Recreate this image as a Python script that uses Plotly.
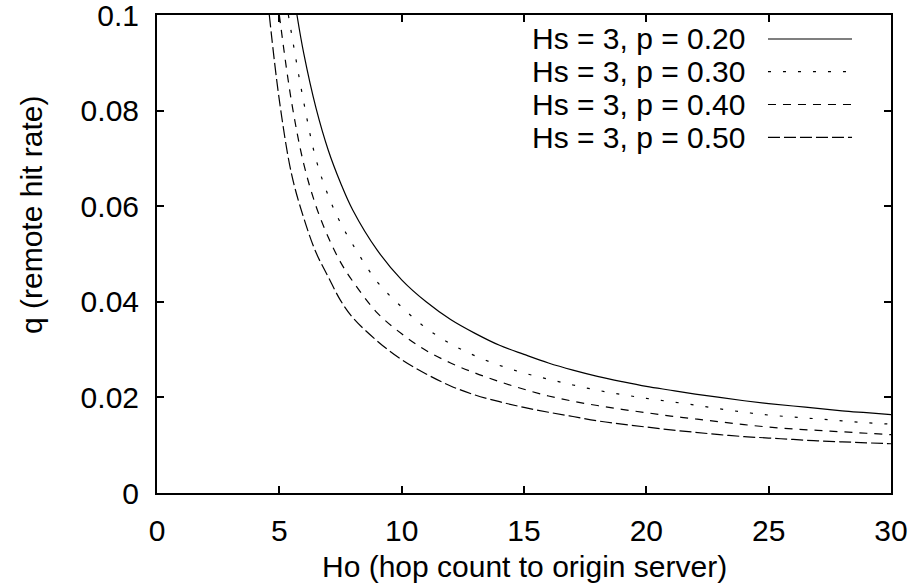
import plotly.graph_objects as go

# Remote hit rate q versus hop count to origin server Ho, for Hs = 3
series_names = ["Hs = 3, p = 0.20", "Hs = 3, p = 0.30", "Hs = 3, p = 0.40", "Hs = 3, p = 0.50"]

ho_p20 = [5.72, 6, 6.5, 7, 7.5, 8, 9, 10, 11, 12, 13, 14, 15, 16, 17, 18, 19, 20,
          21, 22, 23, 24, 25, 26, 27, 28, 29, 30]
q_p20 = [0.100, 0.0919, 0.0805, 0.0717, 0.0649, 0.0592, 0.0508, 0.0446, 0.0400, 0.0363,
         0.0334, 0.0309, 0.0290, 0.0272, 0.0257, 0.0244, 0.0233, 0.0223,
         0.0215, 0.0207, 0.0200, 0.0193, 0.0187, 0.0182, 0.0177, 0.0172, 0.0168, 0.0164]

ho_p30 = [5.37, 6, 6.5, 7, 7.5, 8, 9, 10, 11, 12, 13, 14, 15, 16, 17, 18, 19, 20,
          21, 22, 23, 24, 25, 26, 27, 28, 29, 30]
q_p30 = [0.100, 0.0817, 0.0698, 0.0622, 0.0565, 0.0520, 0.0442, 0.0389, 0.0345, 0.0312,
         0.0287, 0.0267, 0.0251, 0.0238, 0.0226, 0.0215, 0.0206, 0.0198,
         0.0191, 0.0184, 0.0176, 0.0169, 0.0163, 0.0159, 0.0155, 0.0151, 0.0147, 0.0144]

ho_p40 = [5.0, 5.5, 6, 6.5, 7, 7.5, 8, 9, 10, 11, 12, 13, 14, 15, 16, 17, 18, 19, 20,
          21, 22, 23, 24, 25, 26, 27, 28, 29, 30]
q_p40 = [0.100, 0.0818, 0.0688, 0.0600, 0.0535, 0.0483, 0.0443, 0.0377, 0.0333, 0.0298,
         0.0272, 0.0251, 0.0233, 0.0217, 0.0203, 0.0192, 0.0183, 0.0175, 0.0168,
         0.0161, 0.0155, 0.0149, 0.0143, 0.0138, 0.0134, 0.0131, 0.0128, 0.0125, 0.0122]

ho_p50 = [4.59, 5, 5.5, 6, 6.5, 7, 7.5, 8, 9, 10, 11, 12, 13, 14, 15, 16, 17, 18, 19, 20,
          21, 22, 23, 24, 25, 26, 27, 28, 29, 30]
q_p50 = [0.100, 0.0822, 0.0667, 0.0575, 0.0503, 0.0452, 0.0403, 0.0367, 0.0318, 0.0279,
         0.0249, 0.0224, 0.0205, 0.0191, 0.0179, 0.0169, 0.0160, 0.0151, 0.0144, 0.0138,
         0.0132, 0.0127, 0.0122, 0.0118, 0.0115, 0.0112, 0.0109, 0.0107, 0.0105, 0.0103]

x_ticks = [0, 5, 10, 15, 20, 25, 30]
y_ticks = [0, 0.02, 0.04, 0.06, 0.08, 0.1]
y_tick_text = ["0", "0.02", "0.04", "0.06", "0.08", "0.1"]

dash_styles = ["solid", "3px,12px", "8px,7px", "12px,4px"]
xs = [ho_p20, ho_p30, ho_p40, ho_p50]
ys = [q_p20, q_p30, q_p40, q_p50]

FONT = "Liberation Sans, Arial, sans-serif"
FS = 30

fig = go.Figure()
for name, x, y, dash in zip(series_names, xs, ys, dash_styles):
    fig.add_trace(go.Scatter(x=x, y=y, mode="lines", name=name,
                             line=dict(color="black", width=1.2, dash=dash, shape="spline"),
                             showlegend=False, cliponaxis=True))

# key: right-aligned labels followed by a line sample, top right of the plot
row_y = [0.9498, 0.8814, 0.8128, 0.7441]
annotations = []
shapes = []
for name, dash, ry in zip(series_names, dash_styles, row_y):
    annotations.append(dict(x=0.8038, y=ry, xref="paper", yref="paper", text=name,
                            showarrow=False, xanchor="right", yanchor="middle",
                            font=dict(family=FONT, size=FS, color="black")))
    shapes.append(dict(type="line", xref="paper", yref="paper", x0=0.8324, x1=0.9469,
                       y0=ry, y1=ry, line=dict(color="black", width=1.2, dash=dash)))

annotations.append(dict(x=0.5, y=-0.1542, xref="paper", yref="paper",
                        text="Ho (hop count to origin server)", showarrow=False,
                        xanchor="center", yanchor="middle",
                        font=dict(family=FONT, size=FS, color="black")))
annotations.append(dict(x=-0.1703, y=0.5816, xref="paper", yref="paper",
                        text="q (remote hit rate)", showarrow=False, textangle=-90,
                        xanchor="center", yanchor="middle",
                        font=dict(family=FONT, size=FS, color="black")))

fig.update_layout(
    width=912, height=586,
    margin=dict(l=157, r=21, t=15, b=93, autoexpand=False),
    paper_bgcolor="white", plot_bgcolor="white",
    font=dict(family=FONT, size=FS, color="black"),
    annotations=annotations, shapes=shapes,
    xaxis=dict(range=[0, 30], tickvals=x_ticks, showgrid=False, zeroline=False,
               showline=True, linecolor="black", linewidth=2, mirror="ticks",
               ticks="inside", ticklen=7, tickwidth=2, tickcolor="black",
               ticklabelstandoff=10, automargin=False),
    yaxis=dict(range=[0, 0.1], tickvals=y_ticks, ticktext=y_tick_text, showgrid=False,
               zeroline=False, showline=True, linecolor="black", linewidth=2,
               mirror="ticks", ticks="inside", ticklen=7, tickwidth=2,
               tickcolor="black", ticklabelstandoff=10, ticklabeloverflow="allow",
               automargin=False),
)

fig.write_html("out.html")
